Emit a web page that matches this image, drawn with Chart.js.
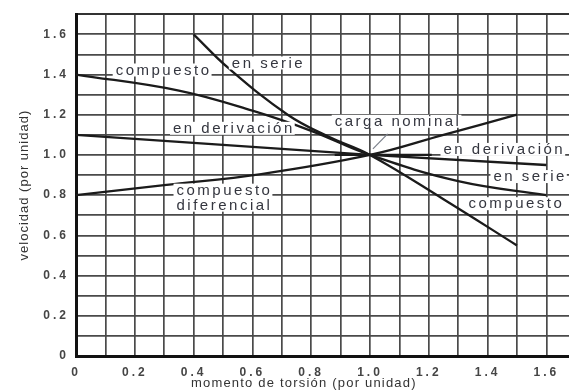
<!DOCTYPE html>
<html lang="es">
<head>
<meta charset="UTF-8">
<title>velocidad - momento de torsión</title>
<style>
  html, body { margin: 0; padding: 0; background: #fff; }
  .wrap { width: 569px; height: 392px; }
</style>
</head>
<body>
<div class="wrap"><canvas id="myChart" width="569" height="392"></canvas></div>

<script src="https://cdn.jsdelivr.net/npm/chart.js"></script>
<script>
// curves (x = momento, y = velocidad, per unit)
const serieX = [0.4, 0.52, 0.72, 0.86, 1.0, 1.25, 1.5];
const serieY = [1.6, 1.43, 1.2, 1.09, 1.0, 0.78, 0.55];

const compuestoX = [0, 0.35, 0.6, 0.8, 1.0, 1.3, 1.6];
const compuestoY = [1.4, 1.32, 1.22, 1.12, 1.0, 0.87, 0.8];

const derivacionX = [0, 0.5, 1.0, 1.6];
const derivacionY = [1.1, 1.05, 1.0, 0.95];

const diferencialX = [0, 0.3, 0.63, 1.0, 1.25, 1.5];
const diferencialY = [0.8, 0.85, 0.905, 1.0, 1.1, 1.2];

const nominalX = [0.88, 1.21];
const nominalY = [1.0, 1.0];

const flechaX = [1.06, 1.01];
const flechaY = [1.105, 1.03];

// grid every 0.1, labels every 0.2
const xGrid = [0, 0.1, 0.2, 0.3, 0.4, 0.5, 0.6, 0.7, 0.8, 0.9, 1.0, 1.1, 1.2, 1.3, 1.4, 1.5, 1.6];
const yGrid = [0, 0.1, 0.2, 0.3, 0.4, 0.5, 0.6, 0.7, 0.8, 0.9, 1.0, 1.1, 1.2, 1.3, 1.4, 1.5, 1.6, 1.7];
const xTickLabels = ['0', '0.2', '0.4', '0.6', '0.8', '1.0', '1.2', '1.4', '1.6'];
const yTickLabels = ['0', '0.2', '0.4', '0.6', '0.8', '1.0', '1.2', '1.4', '1.6'];
const xTitle = 'momento de torsión (por unidad)';
const yTitle = 'velocidad (por unidad)';

// text written on the plot
const notas = [
  { lines: ['en serie'], x: 0.53, y: 1.455, align: 'left' },
  { lines: ['compuesto'], x: 0.135, y: 1.42, align: 'left' },
  { lines: ['en derivación'], x: 0.33, y: 1.13, align: 'left' },
  { lines: ['carga nominal'], x: 0.88, y: 1.165, align: 'left' },
  { lines: ['compuesto', 'diferencial'], x: 0.505, y: 0.785, align: 'center' },
  { lines: ['en derivación'], x: 1.25, y: 1.025, align: 'left' },
  { lines: ['en serie'], x: 1.42, y: 0.89, align: 'left' },
  { lines: ['compuesto'], x: 1.335, y: 0.755, align: 'left' }
];

function pts(xs, ys) {
  return xs.map((x, i) => ({ x: x, y: ys[i] }));
}

function curve(xs, ys, smooth) {
  return {
    data: pts(xs, ys),
    borderColor: '#1b1b1b',
    borderWidth: 2.3,
    pointRadius: 0,
    tension: smooth ? 0.4 : 0
  };
}

const arrow = {
  data: pts(flechaX, flechaY),
  borderColor: '#7a7f8a',
  borderWidth: 1.2,
  pointRadius: 0,
  tension: 0
};

const FONT = '"Liberation Sans", Arial, sans-serif';

const textPlugin = {
  id: 'notas',
  beforeDraw(chart) {
    chart.ctx.letterSpacing = '1px';
  },
  afterDatasetsDraw(chart) {
    const ctx = chart.ctx;
    const xs = chart.scales.x, ys = chart.scales.y;
    ctx.save();
    ctx.letterSpacing = '2.5px';
    ctx.font = '15px ' + FONT;
    ctx.textBaseline = 'middle';
    const lh = 15;
    notas.forEach(n => {
      const px = xs.getPixelForValue(n.x);
      const py = ys.getPixelForValue(n.y);
      const w = Math.max(...n.lines.map(l => ctx.measureText(l).width));
      const first = py - (n.lines.length - 1) * lh / 2;
      const last = first + (n.lines.length - 1) * lh;
      const left = n.align === 'center' ? px - w / 2 : px;
      ctx.fillStyle = '#fff';
      ctx.fillRect(left - 3, first - 7, w + 3, last - first + 13);
      ctx.fillStyle = '#34363f';
      ctx.textAlign = n.align;
      n.lines.forEach((l, i) => {
        ctx.fillText(l, px, first + i * lh);
      });
    });
    // axis title under the x axis
    ctx.font = '13px ' + FONT;
    ctx.letterSpacing = '1.2px';
    ctx.fillStyle = '#333';
    ctx.textAlign = 'center';
    ctx.fillText(xTitle, xs.getPixelForValue(0.775), 383);
    ctx.restore();
    // tick labels come after this (z: 1)
    ctx.letterSpacing = '3px';
  },
  afterDraw(chart) {
    chart.ctx.letterSpacing = '0px';
  }
};

const ctx = document.getElementById('myChart');

new Chart(ctx, {
  type: 'line',
  data: {
    datasets: [
      curve(serieX, serieY, true),
      curve(compuestoX, compuestoY, true),
      curve(derivacionX, derivacionY, false),
      curve(diferencialX, diferencialY, true),
      curve(nominalX, nominalY, false),
      arrow
    ]
  },
  options: {
    responsive: false,
    animation: false,
    events: [],
    layout: { padding: { top: 10, right: 0, bottom: 0, left: 0 } },
    plugins: {
      legend: { display: false },
      tooltip: { enabled: false }
    },
    scales: {
      x: {
        type: 'linear',
        min: 0,
        max: 1.677,
        afterBuildTicks: s => { s.ticks = xGrid.map(v => ({ value: v })); },
        afterFit: s => { s.height = 36; },
        grid: {
          color: '#4a4a4a',
          lineWidth: 1.7,
          drawTicks: false
        },
        border: { color: '#111', width: 3 },
        ticks: {
          z: 1,
          padding: 9,
          autoSkip: false,
          maxRotation: 0,
          color: '#454545',
          font: { family: FONT, size: 12, weight: 'bold' },
          callback: v => {
            const k = Math.round(v * 10);
            return k % 2 === 0 ? (xTickLabels[k / 2] || '') : '';
          }
        }
      },
      y: {
        type: 'linear',
        min: 0,
        max: 1.7,
        afterBuildTicks: s => { s.ticks = yGrid.map(v => ({ value: v })); },
        afterFit: s => { s.width = 76; },
        grid: {
          color: c => (c.tick && c.tick.value === 1.7 ? '#333' : '#4a4a4a'),
          lineWidth: c => (c.tick && c.tick.value === 1.7 ? 2 : 1.7),
          drawTicks: false
        },
        border: { color: '#111', width: 3 },
        ticks: {
          z: 1,
          padding: 7,
          autoSkip: false,
          color: '#454545',
          font: { family: FONT, size: 12, weight: 'bold' },
          callback: v => {
            const k = Math.round(v * 10);
            return k % 2 === 0 ? (yTickLabels[k / 2] || '') : '';
          }
        },
        title: {
          display: true,
          text: yTitle,
          color: '#333',
          font: { family: FONT, size: 13 },
          padding: { top: 17, bottom: 0 }
        }
      }
    }
  },
  plugins: [textPlugin]
});
</script>
</body>
</html>
